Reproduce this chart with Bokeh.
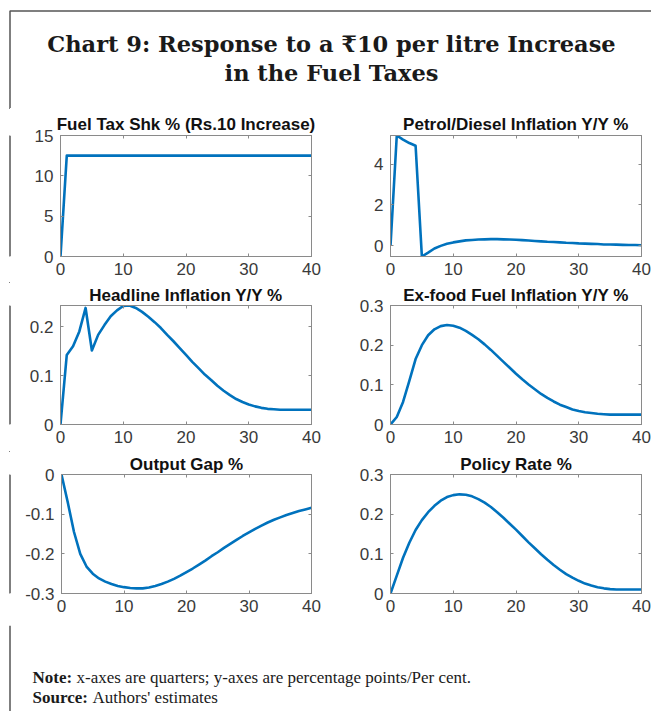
from bokeh.plotting import figure
from bokeh.models import Range1d, LinearAxis, FixedTicker, Label
from bokeh.layouts import row, column
from bokeh.embed import file_html
from bokeh.resources import INLINE

# ---------------- data ----------------
quarters = list(range(41))

fuel_tax_shock = [0.0, 12.5, 12.5, 12.5, 12.5, 12.5, 12.5, 12.5, 12.5, 12.5, 12.5,
                  12.5, 12.5, 12.5, 12.5, 12.5, 12.5, 12.5, 12.5, 12.5, 12.5,
                  12.5, 12.5, 12.5, 12.5, 12.5, 12.5, 12.5, 12.5, 12.5, 12.5,
                  12.5, 12.5, 12.5, 12.5, 12.5, 12.5, 12.5, 12.5, 12.5, 12.5]

petrol_diesel_infl = [0.0, 5.40, 5.20, 5.03, 4.90, -0.52, -0.33, -0.13, 0.0, 0.10, 0.17,
                      0.22, 0.27, 0.29, 0.31, 0.32, 0.33, 0.33, 0.32, 0.31, 0.30,
                      0.28, 0.26, 0.24, 0.22, 0.20, 0.19, 0.17, 0.15, 0.14, 0.12,
                      0.11, 0.10, 0.09, 0.07, 0.07, 0.06, 0.05, 0.04, 0.04, 0.03]

headline_infl = [0.0, 0.142, 0.160, 0.190, 0.238, 0.151, 0.183, 0.203, 0.221, 0.233, 0.242,
                 0.243, 0.238, 0.230, 0.220, 0.209, 0.197, 0.183, 0.170, 0.156, 0.142,
                 0.128, 0.115, 0.102, 0.091, 0.079, 0.069, 0.060, 0.052, 0.046, 0.041,
                 0.037, 0.034, 0.032, 0.031, 0.030, 0.030, 0.030, 0.030, 0.030, 0.030]

exfood_fuel_infl = [0.0, 0.019, 0.057, 0.110, 0.165, 0.200, 0.225, 0.240, 0.248, 0.251, 0.249,
                    0.244, 0.236, 0.226, 0.215, 0.202, 0.188, 0.173, 0.158, 0.143, 0.128,
                    0.114, 0.101, 0.089, 0.077, 0.067, 0.058, 0.050, 0.044, 0.038, 0.034,
                    0.031, 0.029, 0.027, 0.026, 0.025, 0.025, 0.025, 0.025, 0.025, 0.025]

output_gap = [0.0, -0.070, -0.145, -0.200, -0.232, -0.250, -0.262, -0.270, -0.276, -0.281, -0.284,
              -0.286, -0.287, -0.287, -0.285, -0.281, -0.276, -0.270, -0.263, -0.255, -0.246,
              -0.237, -0.227, -0.217, -0.206, -0.196, -0.185, -0.175, -0.165, -0.155, -0.146,
              -0.137, -0.129, -0.121, -0.114, -0.108, -0.102, -0.097, -0.092, -0.088, -0.084]

policy_rate = [0.0, 0.045, 0.090, 0.128, 0.160, 0.185, 0.205, 0.221, 0.234, 0.243, 0.248,
               0.250, 0.249, 0.245, 0.238, 0.229, 0.218, 0.205, 0.191, 0.176, 0.161,
               0.145, 0.129, 0.114, 0.099, 0.085, 0.072, 0.060, 0.049, 0.040, 0.032,
               0.025, 0.020, 0.016, 0.013, 0.011, 0.010, 0.010, 0.010, 0.010, 0.010]

x_ticks = [0, 10, 20, 30, 40]
x_tick_labels = ["0", "10", "20", "30", "40"]

titles = ["Fuel Tax Shk % (Rs.10 Increase)", "Petrol/Diesel Inflation Y/Y %",
          "Headline Inflation Y/Y %", "Ex-food Fuel Inflation Y/Y %",
          "Output Gap %", "Policy Rate %"]

y_ticks_1 = [0, 5, 10, 15];        y_labels_1 = ["0", "5", "10", "15"]
y_ticks_2 = [0, 2, 4];             y_labels_2 = ["0", "2", "4"]
y_ticks_3 = [0, 0.1, 0.2];         y_labels_3 = ["0", "0.1", "0.2"]
y_ticks_4 = [0, 0.1, 0.2, 0.3];    y_labels_4 = ["0", "0.1", "0.2", "0.3"]
y_ticks_5 = [-0.3, -0.2, -0.1, 0]; y_labels_5 = ["-0.3", "-0.2", "-0.1", "0"]
y_ticks_6 = [0, 0.1, 0.2, 0.3];    y_labels_6 = ["0", "0.1", "0.2", "0.3"]

chart_title_1 = "Chart 9: Response to a \u20b910 per litre Increase"
chart_title_2 = "in the Fuel Taxes"
note_head, note_text = "Note:", "x-axes are quarters; y-axes are percentage points/Per cent."
source_head, source_text = "Source:", "Authors' estimates"

# ---------------- styles ----------------
LINE = "#0072BD"
AXC = "#8a8a8a"
TICKC = "#3a3a3a"
BORDER = "#555555"
SANS = "Liberation Sans"
SERIF = "Liberation Serif"
TOTAL_W = 651
BORDER_BG = ("linear-gradient(to right, #ffffff 0px, #ffffff 8.75px, #555555 8.75px, "
             "#555555 10.25px, #ffffff 10.25px, #ffffff 100%)")


def make_panel(series, ylo, yhi, yticks, ylabels, title, w, h, mbl, mbr, mbt, mbb, tstand):
    p = figure(width=w, height=h, x_range=Range1d(0, 40), y_range=Range1d(ylo, yhi),
               output_backend="svg", toolbar_location=None,
               min_border_left=mbl, min_border_right=mbr,
               min_border_top=mbt, min_border_bottom=mbb,
               background_fill_color="white", border_fill_color="white")
    p.add_layout(LinearAxis(), "above")
    p.add_layout(LinearAxis(), "right")
    p.xgrid.visible = False
    p.ygrid.visible = False
    p.outline_line_color = AXC
    p.outline_line_width = 1
    for ax in p.xaxis:
        ax.ticker = FixedTicker(ticks=x_ticks)
        ax.major_label_overrides = {t: l for t, l in zip(x_ticks, x_tick_labels)}
    for ax in p.yaxis:
        ax.ticker = FixedTicker(ticks=yticks)
        ax.major_label_overrides = {t: l for t, l in zip(yticks, ylabels)}
    for ax in list(p.xaxis) + list(p.yaxis):
        ax.axis_line_color = AXC
        ax.major_tick_line_color = AXC
        ax.major_tick_in = 3
        ax.major_tick_out = 0
        ax.minor_tick_line_color = None
        ax.major_label_text_font = SANS
        ax.major_label_text_font_size = "17px"
        ax.major_label_text_color = TICKC
    p.below[0].major_label_standoff = 6
    p.left[0].major_label_standoff = 7
    for ax in (p.above[0], p.right[0]):
        ax.major_label_text_font_size = "0px"
        ax.major_label_text_color = None
        ax.major_label_standoff = 0
    p.title.text = title
    p.title.align = "center"
    p.title.text_font = SANS
    p.title.text_font_style = "bold"
    p.title.text_font_size = "17px"
    p.title.text_color = "#111111"
    p.title.standoff = tstand
    p.title.offset = 0
    p.line(quarters, series, line_color=LINE, line_width=2.6, line_join="round")
    return p


STRIP_W = 22
LW, RW = 313, 316
L_MB, R_MB = (38, 24), (55, 10)
H1, H2, H3 = 174, 169, 174
HDR_H, FTR_H = 108, 86
p1 = make_panel(fuel_tax_shock, 0, 15, y_ticks_1, y_labels_1, titles[0], LW, H1, *L_MB, 27, 26, 4)
p2 = make_panel(petrol_diesel_infl, min(petrol_diesel_infl), max(petrol_diesel_infl),
                y_ticks_2, y_labels_2, titles[1], RW, H1, *R_MB, 27, 26, 4)
p3 = make_panel(headline_infl, 0, max(headline_infl), y_ticks_3, y_labels_3, titles[2],
                LW, H2, *L_MB, 21, 27, 2)
p4 = make_panel(exfood_fuel_infl, 0, 0.3, y_ticks_4, y_labels_4, titles[3],
                RW, H2, *R_MB, 21, 27, 2)
p5 = make_panel(output_gap, -0.3, 0, y_ticks_5, y_labels_5, titles[4],
                LW, H3, *L_MB, 22, 32, 2)
p6 = make_panel(policy_rate, 0, 0.3, y_ticks_6, y_labels_6, titles[5],
                RW, H3, *R_MB, 22, 32, 2)


def blank(w, h, **kw):
    f = figure(width=w, height=h, x_range=Range1d(0, w), y_range=Range1d(0, h),
               output_backend="svg", toolbar_location=None,
               min_border_left=0, min_border_right=0, min_border_top=0, min_border_bottom=0,
               x_axis_location=None, y_axis_location=None, outline_line_color=None,
               background_fill_color="white", border_fill_color="white", **kw)
    f.grid.visible = False
    return f


# header
hdr = blank(TOTAL_W, HDR_H)
hdr.line([9.5, 9.5, TOTAL_W], [0, HDR_H - 10.5, HDR_H - 10.5], line_color=BORDER, line_width=1.5)
for yy, txt in [(HDR_H - 43, chart_title_1), (HDR_H - 72, chart_title_2)]:
    hdr.add_layout(Label(x=331, y=yy, text=txt, text_align="center",
                         text_baseline="alphabetic", text_font="DejaVu Serif",
                         text_font_style="bold", text_font_size="22.5px", text_color="#1a1a1a"))

# left strip: frame border between header and footer (one narrow strip per panel row)
strips = []
for hh in (H1, H2, H3):
    s = blank(STRIP_W, hh, styles={"background": BORDER_BG})
    s.quad(left=[8.75], right=[10.25], bottom=[0], top=[hh], fill_color=BORDER, line_color=None)
    strips.append(s)

# footer
ftr = blank(TOTAL_W, FTR_H)
ftr.line([9.5, 9.5], [0, FTR_H], line_color=BORDER, line_width=1.5)
for yy, head, txt, xoff in [(FTR_H - 52, note_head, note_text, 44),
                            (FTR_H - 72, source_head, source_text, 60)]:
    ftr.add_layout(Label(x=32, y=yy, text=head, text_baseline="alphabetic", text_font=SERIF,
                         text_font_style="bold", text_font_size="17px", text_color="#1a1a1a"))
    ftr.add_layout(Label(x=32 + xoff, y=yy, text=txt, text_baseline="alphabetic",
                         text_font=SERIF, text_font_size="17px", text_color="#1a1a1a"))

layout = column(hdr,
                row(strips[0], p1, p2),
                row(strips[1], p3, p4),
                row(strips[2], p5, p6),
                ftr)

open("out.html", "w").write(file_html(layout, INLINE))
